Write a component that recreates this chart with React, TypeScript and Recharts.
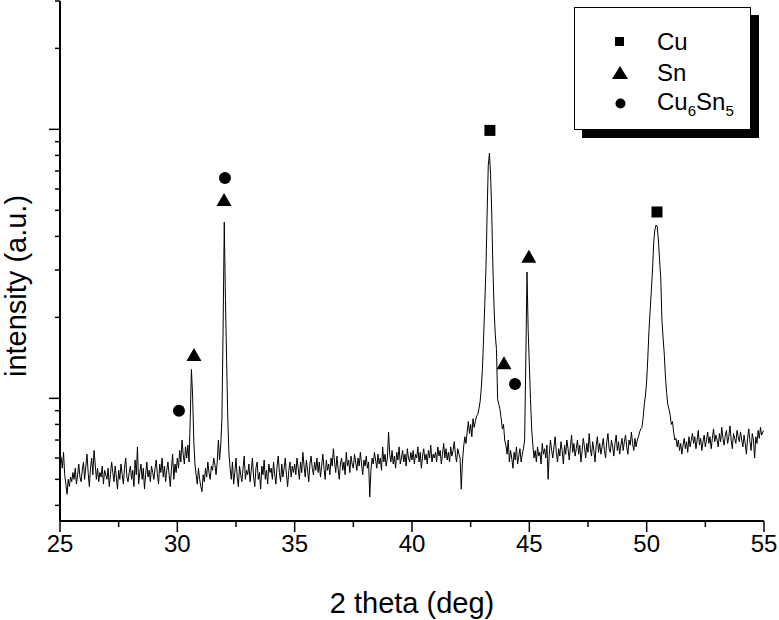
import React from "react";
import { ComposedChart, Line, Scatter, XAxis, YAxis, Label } from "recharts";

// scan grid of the diffractometer
const THETA_START = 25;
const THETA_STEP = 0.05;

// intensity (a.u.), 20 points per degree
const counts25to30 = [
  62, 60, 55, 63, 52, 48, 44, 50, 47, 51, 49, 53, 50, 55, 48, 52, 57, 51, 49, 54,
  58, 50, 56, 62, 53, 47, 55, 60, 52, 64, 57, 50, 55, 49, 53, 51, 56, 48, 54, 52,
  50, 55, 47, 52, 58, 53, 49, 56, 51, 46, 54, 50, 57, 52, 48, 55, 60, 51, 49, 53,
  56, 50, 54, 47, 59, 52, 66, 48, 53, 57, 50, 55, 46, 52, 58, 51, 54, 49, 56, 53,
  50, 55, 59, 52, 48, 57, 53, 60, 51, 56, 49, 54, 58, 52, 47, 55, 62, 50, 57, 53,
];
const counts30to35 = [
  60, 55, 64, 58, 70, 62, 57, 66, 60, 67, 58, 84, 128, 103, 70, 57, 52, 48, 55, 50,
  47, 45, 52, 49, 55, 51, 58, 53, 50, 56, 54, 60, 57, 52, 58, 70, 59, 67, 84, 180,
  452, 233, 139, 84, 62, 55, 50, 58, 48, 53, 60, 51, 47, 56, 52, 49, 55, 61, 50, 54,
  52, 57, 49, 54, 60, 51, 47, 55, 58, 50, 53, 46, 56, 52, 59, 50, 54, 48, 57, 53,
  55, 50, 58, 52, 48, 56, 61, 53, 49, 57, 51, 55, 60, 52, 47, 54, 58, 51, 56, 53,
];
const counts35to40 = [
  57, 52, 60, 55, 50, 58, 53, 63, 56, 51, 59, 54, 49, 57, 61, 55, 52, 58, 54, 60,
  53, 58, 51, 56, 62, 55, 50, 59, 54, 57, 52, 60, 56, 65, 58, 53, 61, 55, 50, 57,
  60, 54, 58, 52, 63, 56, 59, 53, 61, 57, 55, 62, 58, 54, 60, 56, 63, 57, 52, 59,
  56, 61, 55, 58, 43, 54, 60, 57, 63, 59, 55, 62, 57, 60, 54, 66, 58, 62, 56, 60,
  75, 62, 58, 64, 57, 61, 55, 63, 59, 66, 57, 60, 64, 58, 62, 56, 65, 60, 58, 63,
];
const counts40to45 = [
  59, 64, 57, 62, 60, 66, 58, 63, 55, 61, 65, 59, 62, 57, 64, 60, 67, 58, 62, 60,
  63, 58, 66, 61, 64, 57, 62, 68, 60, 65, 59, 63, 58, 66, 61, 64, 69, 62, 58, 65,
  62, 60, 46, 58, 66, 72, 68, 75, 82, 74, 80, 72, 84, 78, 82, 86, 87, 91, 97, 108,
  128, 166, 223, 300, 480, 736, 815, 675, 480, 300, 213, 172, 152, 99, 95, 91, 84, 77, 80, 70,
  67, 62, 70, 58, 64, 60, 55, 63, 59, 66, 57, 61, 65, 58, 62, 65, 70, 139, 295, 180,
];
const counts45to50 = [
  133, 99, 77, 67, 60, 64, 58, 66, 61, 63, 57, 68, 62, 65, 60, 67, 50, 62, 70, 64,
  60, 66, 72, 63, 58, 65, 61, 69, 64, 57, 67, 62, 70, 65, 59, 66, 73, 63, 68, 61,
  65, 70, 62, 67, 58, 64, 71, 66, 60, 68, 63, 74, 65, 61, 69, 64, 58, 67, 72, 63,
  68, 62, 66, 71, 64, 60, 69, 74, 65, 63, 70, 66, 61, 68, 73, 64, 69, 62, 67, 71,
  64, 69, 73, 66, 62, 70, 67, 75, 68, 64, 71, 66, 70, 72, 75, 77, 78, 85, 95, 103,
];
const counts50to55 = [
  116, 142, 180, 213, 253, 300, 381, 423, 441, 434, 388, 327, 281, 196, 168, 146, 120, 105, 95, 91,
  87, 80, 82, 75, 70, 71, 66, 70, 64, 68, 62, 67, 71, 65, 69, 63, 72, 66, 70, 74,
  68, 72, 65, 70, 76, 67, 71, 64, 69, 73, 66, 70, 75, 68, 72, 65, 71, 77, 69, 73,
  70, 66, 74, 69, 78, 71, 67, 73, 76, 68, 72, 79, 70, 65, 74, 71, 68, 76, 72, 69,
  75, 70, 66, 73, 68, 62, 71, 77, 69, 64, 74, 70, 60, 72, 68, 76, 71, 78, 73, 75,
  76,
];

// phase markers placed above the peaks
const cuPeaks = [
  { x: 43.32, y: 991 },
  { x: 50.44, y: 493 },
];
const snPeaks = [
  { x: 30.71, y: 145 },
  { x: 31.99, y: 546 },
  { x: 43.92, y: 135 },
  { x: 44.98, y: 336 },
];
const cu6sn5Peaks = [
  { x: 30.07, y: 90 },
  { x: 32.03, y: 659 },
  { x: 44.39, y: 113 },
];

const xTicks = [25, 27.5, 30, 32.5, 35, 37.5, 40, 42.5, 45, 47.5, 50, 52.5, 55];
const xMajor = [25, 30, 35, 40, 45, 50, 55];
const yTicks = [40, 50, 60, 70, 80, 90, 100, 200, 300, 400, 500, 600, 700, 800, 900, 1000, 2000, 3000];
const yMajor = [100, 1000];

const FONT = "'Liberation Sans', Arial, sans-serif";

const trace = [
  ...counts25to30,
  ...counts30to35,
  ...counts35to40,
  ...counts40to45,
  ...counts45to50,
  ...counts50to55,
].map((y, i) => ({ x: +(THETA_START + i * THETA_STEP).toFixed(2), y }));

function XTick(props: any) {
  const { x, y, payload } = props;
  const major = xMajor.includes(payload.value);
  return (
    <g>
      <line x1={x} x2={x} y1={y} y2={y + (major ? 11 : 6)} stroke="#000" strokeWidth={1.5} />
      {major && (
        <text x={x} y={y + 31} textAnchor="middle" fontSize={24} fontFamily={FONT} fill="#000">
          {payload.value}
        </text>
      )}
    </g>
  );
}

function YTick(props: any) {
  const { x, y, payload } = props;
  const len = yMajor.includes(payload.value) ? 11 : 5;
  return <line x1={x - len} x2={x} y1={y} y2={y} stroke="#000" strokeWidth={1.5} />;
}

const Square = (p: any) => <rect x={p.cx - 5.5} y={p.cy - 5.5} width={11} height={11} fill="#000" />;
const Triangle = (p: any) => (
  <polygon
    points={`${p.cx},${p.cy - 7} ${p.cx - 7.5},${p.cy + 6} ${p.cx + 7.5},${p.cy + 6}`}
    fill="#000"
  />
);
const Dot = (p: any) => <circle cx={p.cx} cy={p.cy} r={6} fill="#000" />;

function LegendBox() {
  const row = { display: "flex", alignItems: "center", height: 31 } as const;
  const mark = { width: 20, marginLeft: 35, marginRight: 27, display: "flex", justifyContent: "center" } as const;
  return (
    <div
      style={{
        position: "absolute",
        left: 574,
        top: 7,
        width: 175,
        height: 103,
        border: "1px solid #000",
        background: "#fff",
        boxShadow: "8px 8px 0 #000",
        fontFamily: FONT,
        fontSize: 24,
        boxSizing: "content-box",
        paddingTop: 18,
      }}
    >
      <div style={row}>
        <span style={mark}>
          <svg width={10} height={10}><rect width={9} height={9} fill="#000" /></svg>
        </span>
        <span>Cu</span>
      </div>
      <div style={row}>
        <span style={mark}>
          <svg width={16} height={13}><polygon points="8,0 0,13 16,13" fill="#000" /></svg>
        </span>
        <span>Sn</span>
      </div>
      <div style={row}>
        <span style={mark}>
          <svg width={11} height={11}><circle cx={5.5} cy={5.5} r={5} fill="#000" /></svg>
        </span>
        <span>
          Cu<sub style={{ fontSize: 15 }}>6</sub>Sn<sub style={{ fontSize: 15 }}>5</sub>
        </span>
      </div>
    </div>
  );
}

export default function App() {
  return (
    <div style={{ position: "relative", width: 779, height: 620 }}>
      <style>{"body{margin:0}"}</style>
      <ComposedChart
        width={779}
        height={620}
        data={trace}
        margin={{ top: 1, right: 15, bottom: 0, left: 0 }}
      >
        <XAxis
          dataKey="x"
          type="number"
          domain={[25, 55]}
          ticks={xTicks}
          interval={0}
          allowDataOverflow
          height={99}
          tickSize={0}
          tickMargin={0}
          tickLine={false}
          tick={<XTick />}
          axisLine={{ stroke: "#000", strokeWidth: 2 }}
        >
          <Label
            content={() => (
              <text x={412} y={613} textAnchor="middle" fontSize={29} fontFamily={FONT} fill="#000">
                2 theta (deg)
              </text>
            )}
          />
        </XAxis>
        <XAxis
          xAxisId="top"
          orientation="top"
          type="number"
          domain={[25, 55]}
          height={0}
          tick={false}
          tickLine={false}
          axisLine={{ stroke: "#000", strokeWidth: 2 }}
        />
        <YAxis
          type="number"
          scale="log"
          domain={[35, 3000]}
          allowDataOverflow
          ticks={yTicks}
          interval={0}
          width={60}
          tickSize={0}
          tickMargin={0}
          tickLine={false}
          tick={<YTick />}
          axisLine={{ stroke: "#000", strokeWidth: 2 }}
        >
          <Label
            content={() => (
              <text
                x={26}
                y={286}
                transform="rotate(-90 26 286)"
                textAnchor="middle"
                fontSize={29}
                fontFamily={FONT}
                fill="#000"
              >
                intensity (a.u.)
              </text>
            )}
          />
        </YAxis>
        <YAxis
          yAxisId="right"
          orientation="right"
          type="number"
          domain={[0, 1]}
          width={0}
          tick={false}
          tickLine={false}
          axisLine={{ stroke: "#000", strokeWidth: 2 }}
        />
        <Line
          dataKey="y"
          type="linear"
          stroke="#000"
          strokeWidth={1}
          dot={false}
          isAnimationActive={false}
        />
        <Scatter data={cuPeaks} dataKey="y" shape={Square} isAnimationActive={false} />
        <Scatter data={snPeaks} dataKey="y" shape={Triangle} isAnimationActive={false} />
        <Scatter data={cu6sn5Peaks} dataKey="y" shape={Dot} isAnimationActive={false} />
      </ComposedChart>
      <LegendBox />
    </div>
  );
}
